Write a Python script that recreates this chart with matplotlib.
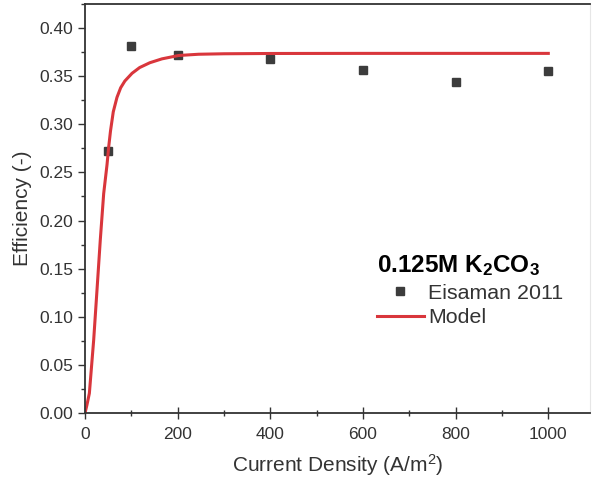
import matplotlib
matplotlib.use("Agg")
import matplotlib.pyplot as plt
from matplotlib.ticker import MultipleLocator, FormatStrFormatter

plt.rcParams['font.family'] = ['Liberation Sans', 'DejaVu Sans']
plt.rcParams['mathtext.fontset'] = 'custom'
plt.rcParams['mathtext.rm'] = 'Liberation Sans'
plt.rcParams['mathtext.bf'] = 'Liberation Sans:bold'
plt.rcParams['mathtext.default'] = 'regular'

# measured points (Eisaman 2011)
exp_current = [50, 100, 200, 400, 600, 800, 1000]
exp_eff = [0.272, 0.381, 0.372, 0.368, 0.356, 0.344, 0.355]

# model curve
model_current = [0, 4, 9.4, 18.7, 25.9, 33, 40.3, 47.5, 51, 55, 61, 69, 77, 86, 101.5,
                 118, 140, 166, 202, 245, 300, 400, 600, 800, 1000]
model_eff = [0.0, 0.008, 0.0205, 0.0758, 0.128, 0.180, 0.228, 0.258, 0.276, 0.293,
             0.313, 0.328, 0.338, 0.345, 0.353, 0.359, 0.364, 0.368, 0.3715, 0.3728,
             0.3733, 0.3736, 0.3737, 0.3737, 0.3737]

grey = '#333333'

fig = plt.figure(figsize=(5.92, 4.84), dpi=100)
ax = fig.add_axes([0.1436, 0.1467, 0.853, 0.845])

ax.plot(exp_current, exp_eff, 's', color='#3c3c3c', markersize=5.5, label='Eisaman 2011')
ax.plot(model_current, model_eff, '-', color='#d9363c', linewidth=2.2, label='Model')

ax.set_xlim(0, 1090)
ax.set_ylim(0, 0.425)
ax.xaxis.set_major_locator(MultipleLocator(200))
ax.xaxis.set_minor_locator(MultipleLocator(100))
ax.yaxis.set_major_locator(MultipleLocator(0.05))
ax.yaxis.set_minor_locator(MultipleLocator(0.025))
ax.yaxis.set_major_formatter(FormatStrFormatter('%.2f'))

ax.tick_params(axis='x', which='major', direction='inout', length=8, width=1, colors=grey,
               labelsize=12.5, pad=6)
ax.tick_params(axis='x', which='minor', direction='inout', length=5, width=1, colors=grey)
ax.tick_params(axis='y', which='major', direction='out', length=5, width=1, colors=grey,
               labelsize=12.5)
ax.tick_params(axis='y', which='minor', direction='out', length=3, width=1, colors=grey)

for s in ['left', 'bottom', 'top']:
    ax.spines[s].set_color(grey)
    ax.spines[s].set_linewidth(1.3)
ax.spines['right'].set_color('#e6e6e6')

ax.set_xlabel('Current Density (A/m$^2$)', fontsize=15, color=grey, labelpad=7)
ax.set_ylabel('Efficiency (-)', fontsize=15, color=grey, labelpad=5)

leg = ax.legend(title=r'0.125M K$_\mathbf{2}$CO$_\mathbf{3}$', loc='upper left',
                bbox_to_anchor=(0.578, 0.39), frameon=False, fontsize=15.4,
                borderpad=0, borderaxespad=0, alignment='left',
                handlelength=2.2, handletextpad=0.2, labelspacing=0.25,
                title_fontproperties={'weight': 'bold', 'size': 17.5})
for t in leg.get_texts():
    t.set_color(grey)

fig.savefig('out.png', dpi=100)
